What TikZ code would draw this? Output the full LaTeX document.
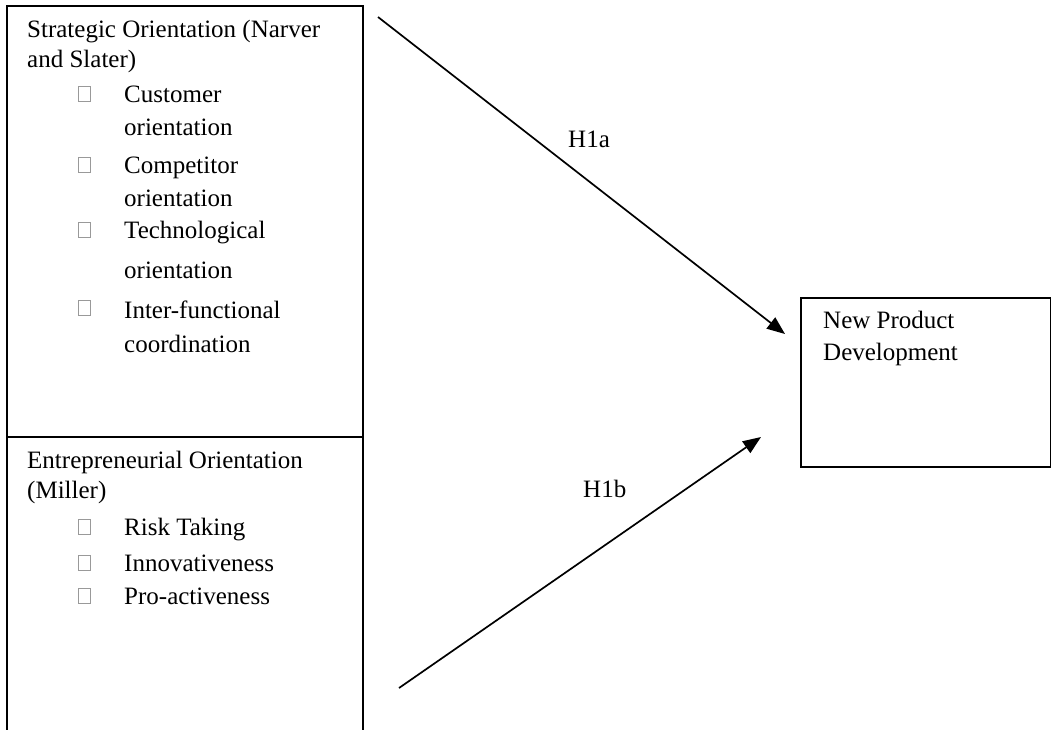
\documentclass[tikz,border=0pt]{standalone}
\usepackage{fontspec}
\setmainfont{Liberation Serif}
\usetikzlibrary{arrows.meta}
\begin{document}
\begin{tikzpicture}[x=1pt,y=-1pt,
  txt/.style={anchor=base west,inner sep=0pt,font=\fontsize{25}{30}\selectfont},
  bul/.style={draw=gray!80,line width=0.7pt,minimum width=12pt,minimum height=15pt,inner sep=0pt,anchor=north west},
  boxline/.style={draw,line width=1.8pt},
  conn/.style={line width=1.7pt,-{Triangle[length=18pt,width=14pt]}}]
\useasboundingbox (0,0) rectangle (1051,729);
\clip (0,0) rectangle (1051,729);
% boxes
\node[boxline,minimum width=356pt,minimum height=431pt,anchor=north west,inner sep=0pt] (so) at (6,5) {};
\node[boxline,minimum width=356pt,minimum height=320pt,anchor=north west,inner sep=0pt] (eo) at (6,436) {};
\node[boxline,minimum width=250pt,minimum height=169pt,anchor=north west,inner sep=0pt] (npd) at (800,297) {};
% strategic orientation text
\node[txt] (t1) at (27,37) {Strategic Orientation (Narver};
\node[txt] (t2) at (27,67) {and Slater)};
\node[bul] (b1) at (78,86) {};
\node[txt] (c1) at (124,102) {Customer};
\node[txt] (c2) at (124,135) {orientation};
\node[bul] (b2) at (78,157) {};
\node[txt] (c3) at (124,173) {Competitor};
\node[txt] (c4) at (124,206) {orientation};
\node[bul] (b3) at (78,222) {};
\node[txt] (c5) at (124,238) {Technological};
\node[txt] (c6) at (124,278) {orientation};
\node[bul] (b4) at (78,300) {};
\node[txt] (c7) at (124,318) {Inter-functional};
\node[txt] (c8) at (124,352) {coordination};
% entrepreneurial orientation text
\node[txt] (e1) at (27,468) {Entrepreneurial Orientation};
\node[txt] (e2) at (27,498) {(Miller)};
\node[bul] (b5) at (78,519) {};
\node[txt] (r1) at (124,535) {Risk Taking};
\node[bul] (b6) at (78,555) {};
\node[txt] (r2) at (124,571) {Innovativeness};
\node[bul] (b7) at (78,588) {};
\node[txt] (r3) at (124,604) {Pro-activeness};
% NPD text
\node[txt] (n1) at (823,328) {New Product};
\node[txt] (n2) at (823,360) {Development};
% arrows
\coordinate (a1s) at (378,17);
\coordinate (a1e) at (785,334);
\coordinate (a2s) at (399,688);
\coordinate (a2e) at (761,437);
\draw[conn] (a1s) -- (a1e);
\draw[conn] (a2s) -- (a2e);
\node[txt] (h1a) at (568,147) {H1a};
\node[txt] (h1b) at (583,497) {H1b};
\end{tikzpicture}
\end{document}
